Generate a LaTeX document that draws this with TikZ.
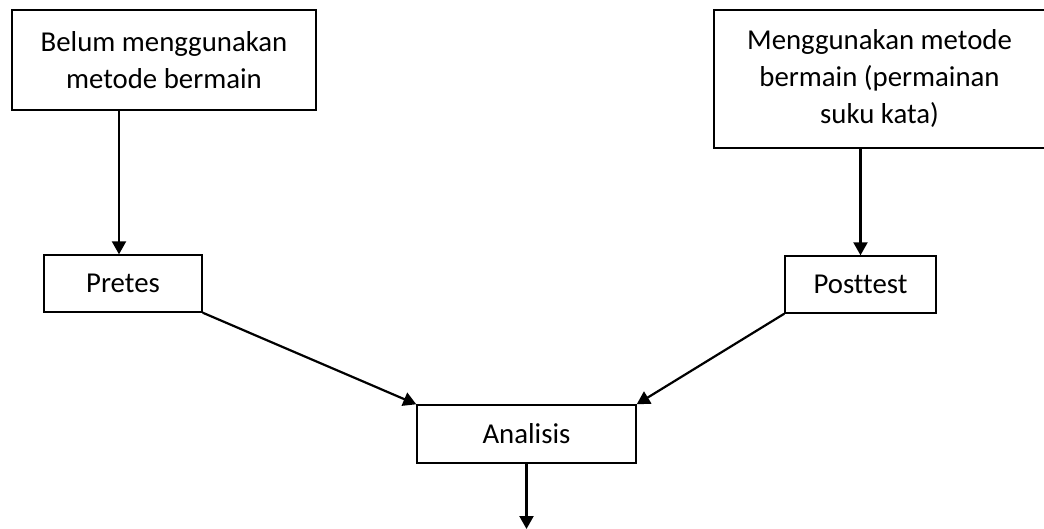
\documentclass[tikz,border=0pt]{standalone}
\usepackage{fontspec}
\setmainfont{Carlito}[Ligatures=NoCommon]
\usetikzlibrary{arrows.meta, positioning}

\tikzset{
    kotak/.style={draw, line width=0.7pt, align=center, inner sep=0pt,
        font=\fontsize{14.4}{18.5}\selectfont},
    panah/.style={-{Triangle[length=6.5pt, width=7pt]}, line width=1.1pt}
}

\begin{document}
\begin{tikzpicture}[x=0.5pt, y=-0.5pt]
    % batas gambar
    \useasboundingbox (0,0) rectangle (1044,529);

    % kotak atas kiri dan kanan
    \node[kotak, minimum width=152pt, minimum height=50pt] (belum) at (164,60)
        {Belum menggunakan\\metode bermain};
    \node[kotak, minimum width=165.5pt, minimum height=69pt] (pakai) at (879.5,79)
        {Menggunakan metode\\bermain (permainan\\suku kata)};

    % kotak tes
    \node[kotak, minimum width=79pt, minimum height=28.5pt] (pretes) at (123,283.5) {Pretes};
    \node[kotak, minimum width=75.5pt, minimum height=28.5pt] (posttest) at (860.5,284.5) {Posttest};

    % kotak analisis
    \node[kotak, minimum width=109.5pt, minimum height=29pt] (analisis) at (526.5,434) {Analisis};
    \coordinate (bawah) at (526.5,529);

    % panah
    \draw[panah] ([xshift=-2pt]pretes.north |- belum.south) -- ([xshift=-2pt]pretes.north);
    \draw[panah] (posttest.north |- pakai.south) -- (posttest.north);
    \draw[panah] (pretes.south east) -- (analisis.north west);
    \draw[panah] (posttest.south west) -- (analisis.north east);
    \draw[panah] (analisis.south) -- (bawah);
\end{tikzpicture}
\end{document}
